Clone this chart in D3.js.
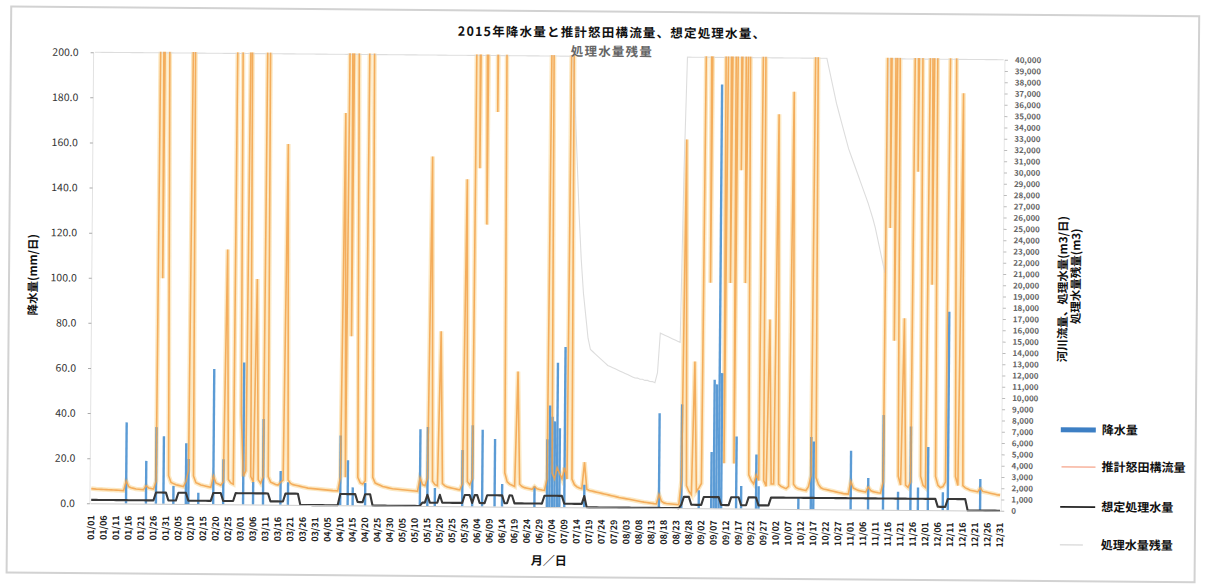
<!DOCTYPE html>
<html><head><meta charset="utf-8">
<script src="https://cdn.jsdelivr.net/npm/d3@7"></script>
<style>
html,body{margin:0;padding:0;background:#fff;}
svg{display:block;}
text{font-family:"Noto Sans CJK JP","Noto Sans",sans-serif;}
</style></head><body>
<svg id="chart" width="1205" height="586"></svg>
<script>
// ---- categories / tick labels ----
const days = d3.timeDay.range(new Date(2016,0,1), new Date(2017,0,1)).map(d3.timeFormat("%m/%d"));
const tickLabels = ["01/01","01/06","01/11","01/16","01/21","01/26","01/31","02/05","02/10","02/15","02/20","02/25",
 "03/01","03/06","03/11","03/16","03/21","03/26","03/31","04/05","04/10","04/15","04/20","04/25","04/30",
 "05/05","05/10","05/15","05/20","05/25","05/30","06/04","06/09","06/14","06/19","06/24","06/29",
 "07/04","07/09","07/14","07/19","07/24","07/29","08/03","08/08","08/13","08/18","08/23","08/28",
 "09/02","09/07","09/12","09/17","09/22","09/27","10/02","10/07","10/12","10/17","10/22","10/27",
 "11/01","11/06","11/11","11/16","11/21","11/26","12/01","12/06","12/11","12/16","12/21","12/26","12/31"];
const leftTicks = [0,20,40,60,80,100,120,140,160,180,200];
const rightTicks = [0,1000,2000,3000,4000,5000,6000,7000,8000,9000,10000,11000,12000,13000,14000,15000,16000,17000,18000,19000,20000,
 21000,22000,23000,24000,25000,26000,27000,28000,29000,30000,31000,32000,33000,34000,35000,36000,37000,38000,39000,40000];

// ---- series: 降水量 (mm/日) ----
const precip = [
 0,0,0,0,0,0,0,0,0,0, 0,0,0,0,36,0,0,0,0,0, 0,0,19,0,0,0,34,0,0,30, 0,
 0,0,8,0,0,0,0,27,20,0, 0,0,5,0,0,0,0,0,60,0, 0,0,20,0,0,0,0,0,0,
 0,63,0,0,0,10,0,0,0,38, 0,0,0,0,0,0,15,0,0,10, 0,0,0,0,0,0,0,0,0,0, 0,
 0,0,0,0,0,0,0,0,0,31, 0,0,20,0,8,0,0,0,0,10, 0,0,0,0,0,0,0,0,0,0,
 0,0,0,0,0,0,0,0,0,0, 0,34,0,0,35,0,0,8,0,0, 0,0,0,0,0,0,0,0,25,0, 0,
 0,36,0,0,0,34,0,0,0,0, 30,0,0,10,0,0,0,0,0,0, 0,0,0,0,0,0,9,0,0,0,
 0,30,45,40,38,64,35,0,71,0, 0,0,0,0,0,0,10,0,0,0, 0,0,0,0,0,0,0,0,0,0, 0,
 0,0,0,0,0,0,0,0,0,0, 0,0,0,0,0,42,0,0,0,0, 0,0,0,0,46,0,0,0,0,0, 0,
 8,0,0,0,0,25,57,55,188,60, 0,0,0,0,0,32,0,10,0,0, 0,0,0,24,10,0,0,0,0,0,
 0,0,0,0,0,0,0,0,0,0, 5,0,0,0,0,32,30,0,0,0, 0,0,0,0,0,0,0,0,0,0, 0,
 26,0,0,0,0,0,0,14,0,0, 0,0,0,42,0,0,0,0,0,8, 0,0,0,0,37,0,0,10,0,0,
 0,28,0,0,0,0,0,8,0,88, 0,0,0,0,0,0,0,0,0,0, 0,0,14,0,0,0,0,0,0,0, 0];

// ---- series: 推計怒田構流量 (m3/日) ----
const flow = [
 1300,1280,1260,1250,1240,1230,1220,1210,1200,1190, 1180,1170,1160,1150,2000,1500,1400,1350,1300,1280, 1260,1250,1600,1400,1350,1300,2000,90000,20000,110000, 45000,
 2500,1900,1800,1700,1650,1600,1550,2000,3000,70000, 2500,1900,1800,1700,1650,1600,1550,1500,2500,1900, 1800,1700,2000,22600,2200,1900,1800,100000,80000,
 8000,2500,3000,60000,2500,2000,20000,2200,1900,2500, 90000,2500,2000,1900,1800,1750,2000,2200,32000,2200, 1900,1800,1750,1700,1650,1600,1550,1500,1480,1460, 1440,
 1420,1400,1380,1360,1340,1320,1300,1290,1280,2500, 34800,2500,80000,15000,100000,50000,2500,2000,1900,2200, 90000,60000,2500,2000,1900,1800,1700,1650,1600,1550,
 1500,1480,1460,1440,1420,1400,1380,1360,1340,1320, 1300,2500,1900,1800,2500,31000,2200,1900,1800,15500, 2000,1800,1700,1650,1600,1550,1500,1450,2000,29000, 2200,
 1900,2500,95000,30000,110000,70000,25000,120000,60000,100000, 35000,90000,50000,80000,3000,2200,2000,1900,1800,12000, 2000,1800,1700,1650,1600,1550,1800,1600,1550,1500,
 1480,2500,70000,3000,2500,3500,3000,2500,3500,2500, 80000,2500,2000,1800,1700,1650,4000,1600,1500,1450, 1400,1350,1300,1250,1200,1150,1100,1050,1000,950, 900,
 860,820,780,740,700,660,620,580,540,500, 470,440,410,380,360,1200,600,450,400,380, 360,340,320,300,2500,32700,2000,1500,1200,13000, 1500,
 1800,2200,70000,100000,20000,120000,90000,60000,150000,80000, 4000,80000,20000,90000,4000,100000,30000,70000,20000,60000, 3000,2500,2200,3000,2500,80000,2500,2000,16800,2200,
 2200,35000,2200,2000,1900,1800,2000,37000,2200,1900, 1800,1750,1700,1650,2000,3000,80000,2800,2200,1900, 1800,1750,1700,1650,1600,1550,1500,1450,1400,1380, 1360,
 2500,1900,1800,1700,1650,1600,1550,2000,1700,1600, 1550,1500,1480,2500,90000,25000,110000,15000,70000,3000, 2200,17000,2200,2000,2500,80000,30000,90000,3000,2200,
 2000,70000,20000,85000,3000,2200,2000,2100,2500,60000, 100000,45000,3000,2200,37000,2200,2000,1900,1800,1750, 1700,1650,2000,1700,1650,1600,1550,1500,1450,1400, 1380];

// ---- series: 想定処理水量 (m3/日) ----
const treated = [
 300,300,300,300,300,300,300,300,300,300, 300,300,300,300,300,300,300,300,300,300, 300,300,300,300,300,300,1000,1000,1000,1000, 1000,
 300,300,300,300,1000,1000,1000,1000,300,300, 300,300,300,300,300,300,300,300,1000,1000, 1000,1000,300,300,300,300,300,1000,1000,
 1000,1000,1000,1000,1000,1000,1000,1000,1000,1000, 1000,1000,300,300,300,300,300,300,1000,1000, 1000,1000,1000,1000,0,0,0,0,0,0, 0,
 0,0,0,0,0,0,0,0,0,1000, 1000,1000,1000,1000,1000,1000,300,300,300,1000, 1000,1000,0,0,0,0,0,0,0,0,
 0,0,0,0,0,0,0,0,0,0, 0,0,300,300,1000,300,300,300,300,1000, 300,300,300,300,300,300,300,300,300,1000, 1000,
 1000,300,1000,1000,300,300,300,1000,1000,1000, 1000,1000,1000,1000,300,300,1000,1000,300,300, 300,300,300,300,300,300,300,300,300,300,
 1000,1000,1000,1000,1000,1000,1000,1000,300,300, 300,300,300,300,300,300,1000,0,0,0, 0,0,0,0,0,0,0,0,0,0, 0,
 0,0,0,0,0,0,0,0,0,0, 0,0,0,0,0,0,0,0,0,0, 0,0,0,0,300,1000,1000,1000,300,300, 300,
 300,300,1000,1000,1000,1000,1000,1000,1000,300, 300,300,300,1000,1000,1000,1000,300,300,300, 1000,1000,1000,1000,300,300,300,300,300,1000,
 1000,1000,1000,1000,1000,1000,1000,1000,1000,1000, 1000,1000,1000,1000,1000,1000,1000,1000,1000,1000, 1000,1000,1000,1000,1000,1000,1000,1000,1000,1000, 1000,
 1000,1000,1000,1000,1000,1000,1000,1000,1000,1000, 1000,1000,1000,1000,1000,1000,1000,1000,1000,1000, 1000,1000,1000,1000,1000,1000,1000,1000,1000,1000,
 1000,1000,1000,1000,1000,300,300,300,300,1000, 1000,1000,1000,1000,1000,1000,1000,0,0,0, 0,0,0,0,0,0,0,0,0,0, 0];

// ---- series: 処理水量残量 (m3) ----
const remain = [
 40000,40000,40000,40000,40000,40000,40000,40000,40000,40000, 40000,40000,40000,40000,40000,40000,40000,40000,40000,40000, 40000,40000,40000,40000,40000,40000,40000,40000,40000,40000, 40000,
 40000,40000,40000,40000,40000,40000,40000,40000,40000,40000, 40000,40000,40000,40000,40000,40000,40000,40000,40000,40000, 40000,40000,40000,40000,40000,40000,40000,40000,40000,
 40000,40000,40000,40000,40000,40000,40000,40000,40000,40000, 40000,40000,40000,40000,40000,40000,40000,40000,40000,40000, 40000,40000,40000,40000,40000,40000,40000,40000,40000,40000, 40000,
 40000,40000,40000,40000,40000,40000,40000,40000,40000,40000, 40000,40000,40000,40000,40000,40000,40000,40000,40000,40000, 40000,40000,40000,40000,40000,40000,40000,40000,40000,40000,
 40000,40000,40000,40000,40000,40000,40000,40000,40000,40000, 40000,40000,40000,40000,40000,40000,40000,40000,40000,40000, 40000,40000,40000,40000,40000,40000,40000,40000,40000,40000, 40000,
 40000,40000,40000,40000,40000,40000,40000,40000,40000,40000, 40000,40000,40000,40000,40000,40000,40000,40000,40000,40000, 40000,40000,40000,40000,40000,40000,40000,40000,40000,40000,
 40000,40000,40000,40000,40000,40000,40000,40000,40000,40000, 40000,36000,31000,26000,22000,19000,17000,15000,14000,13800, 13600,13400,13200,13000,12800,12600,12500,12400,12300,12200, 12100,
 12000,11900,11800,11700,11600,11500,11500,11400,11400,11300, 11300,11200,11200,11100,12000,15500,15400,15300,15200,15100, 15000,14900,14800,14700,30000,40000,40000,40000,40000,40000, 40000,
 40000,40000,40000,40000,40000,40000,40000,40000,40000,40000, 40000,40000,40000,40000,40000,40000,40000,40000,40000,40000, 40000,40000,40000,40000,40000,40000,40000,40000,40000,40000,
 40000,40000,40000,40000,40000,40000,40000,40000,40000,40000, 40000,40000,40000,40000,40000,40000,40000,40000,40000,40000, 40000,39000,38000,37000,36000,35200,34400,33600,32800,32000, 31400,
 30800,30200,29600,29000,28400,27800,27200,26500,25800,25000, 24000,23000,22000,21000,40000,40000,40000,40000,40000,40000, 40000,40000,40000,40000,40000,40000,40000,40000,40000,40000,
 40000,40000,40000,40000,40000,40000,40000,40000,40000,40000, 40000,40000,40000,40000,40000,40000,40000,40000,40000,40000, 40000,40000,40000,40000,40000,40000,40000,40000,40000,40000, 40000];

const titleLines = ["2015年降水量と推計怒田構流量、想定処理水量、","処理水量残量"];
const legendItems = ["降水量","推計怒田構流量","想定処理水量","処理水量残量"];

// ---- drawing ----
const svg = d3.select("#chart");
const root = svg.append("g").attr("transform","rotate(0.47,548,282)");
const PL = 91.75, PR = 1003.1, PT = 56, PB = 507;

root.append("rect").attr("x",9).attr("y",11).attr("width",1188).attr("height",566)
  .attr("fill","#fff").attr("stroke","#d2d2d2").attr("stroke-width",2);

const x = d3.scaleBand().domain(days).range([PL,PR]).padding(0);
const bw = x.bandwidth();
const yL = d3.scaleLinear().domain([0,200]).range([PB,PT]);
const yR = d3.scaleLinear().domain([0,40000]).range([PB,PT]);

svg.append("defs").append("clipPath").attr("id","plotclip")
  .append("rect").attr("x",PL).attr("y",PT-1).attr("width",PR-PL).attr("height",PB-PT+6);

// axis lines
root.append("line").attr("x1",PL).attr("x2",PL).attr("y1",PT).attr("y2",PB).attr("stroke","#e2e2e2");
root.append("line").attr("x1",PR).attr("x2",PR).attr("y1",PT).attr("y2",PB).attr("stroke","#e6e6e6");

const plot = root.append("g").attr("clip-path","url(#plotclip)");

const lineR = arr => d3.line().x((d,i)=>x(days[i])+bw/2).y(d=>yR(d))(arr);

// soft halo of the flow line (scan blur look)
plot.append("path").attr("d",lineR(flow)).attr("fill","none")
  .attr("stroke","#fbe0ae").attr("stroke-width",4.5).attr("stroke-opacity",0.75);

// bars
plot.append("g").selectAll("rect").data(days.map((d,i)=>({d,v:precip[i]})).filter(o=>o.v>0))
  .join("rect")
  .attr("x",o=>x(o.d)+bw*0.02).attr("width",bw*0.96)
  .attr("y",o=>yL(o.v)).attr("height",o=>PB-yL(o.v))
  .attr("fill","#5b9bd5");

plot.append("path").attr("d",lineR(remain)).attr("fill","none")
  .attr("stroke","#dddddd").attr("stroke-width",1.1);
plot.append("path").attr("d",lineR(flow)).attr("fill","none")
  .attr("stroke","#f2a24a").attr("stroke-width",1.6).attr("stroke-opacity",0.85);
plot.append("path").attr("d",lineR(treated)).attr("fill","none")
  .attr("stroke","#383838").attr("stroke-width",2.1).attr("stroke-linejoin","round");

// left axis
const axL = root.append("g").attr("transform",`translate(${PL},0)`)
  .call(d3.axisLeft(yL).tickValues(leftTicks).tickFormat(d3.format(".1f")).tickSize(3).tickPadding(12));
axL.select(".domain").remove();
axL.selectAll(".tick line").attr("stroke","#aaa");
axL.selectAll("text").attr("font-family","'Liberation Serif',serif").attr("font-size",10.5).attr("fill","#333");

// right axis
const axR = root.append("g").attr("transform",`translate(${PR},0)`)
  .call(d3.axisRight(yR).tickValues(rightTicks).tickFormat(d3.format(",")).tickSize(3).tickPadding(7));
axR.select(".domain").remove();
axR.selectAll(".tick line").attr("stroke","#bbb");
axR.selectAll("text").attr("font-family","'Liberation Sans',sans-serif").attr("font-size",8).attr("fill","#666").attr("font-weight","bold");

// bottom axis
const axB = root.append("g").attr("transform",`translate(0,${PB})`)
  .call(d3.axisBottom(x).tickValues(tickLabels).tickSize(0));
axB.select(".domain").attr("stroke","#ccc");
axB.selectAll("text").attr("font-family","'Liberation Sans',sans-serif").attr("font-size",9).attr("font-weight","bold")
  .attr("fill","#222").attr("transform","rotate(-90)").attr("x",-12).attr("y",0).attr("dy","0.35em")
  .style("text-anchor","end");

// titles
root.append("text").attr("x",610).attr("y",36.5).attr("text-anchor","middle").attr("font-size",12.5)
  .attr("letter-spacing",1.2).attr("font-weight","bold").attr("fill","#111").text(titleLines[0]);
root.append("text").attr("x",610).attr("y",55.5).attr("text-anchor","middle").attr("font-size",12.5)
  .attr("letter-spacing",1.2).attr("font-weight","bold").attr("fill","#666").text(titleLines[1]);

root.append("text").attr("transform","translate(37,279) rotate(-90)").attr("text-anchor","middle")
  .attr("font-size",11.5).attr("font-weight","bold").attr("fill","#111").text("降水量(mm/日)");
root.append("text").attr("transform","translate(1067,285) rotate(-90)").attr("text-anchor","middle")
  .attr("font-size",11.5).attr("font-weight","bold").attr("fill","#111").text("河川流量、処理水量(m3/日)");
root.append("text").attr("transform","translate(1080,272) rotate(-90)").attr("text-anchor","middle")
  .attr("font-size",11.5).attr("font-weight","bold").attr("fill","#111").text("処理水量残量(m3)");

root.append("text").attr("x",551).attr("y",565).attr("text-anchor","middle").attr("font-size",12)
  .attr("font-weight","bold").attr("fill","#111").text("月／日");

// legend
const legY = [425.6,462.6,502.6,540.6];
const leg = root.append("g");
leg.append("line").attr("x1",1062).attr("x2",1097).attr("y1",legY[0]).attr("y2",legY[0]).attr("stroke","#3d7fc4").attr("stroke-width",5);
leg.append("line").attr("x1",1063).attr("x2",1097).attr("y1",legY[1]).attr("y2",legY[1]).attr("stroke","#f6a48a").attr("stroke-width",1.2);
leg.append("line").attr("x1",1062).attr("x2",1097).attr("y1",legY[2]).attr("y2",legY[2]).attr("stroke","#222").attr("stroke-width",1.8);
leg.append("line").attr("x1",1062).attr("x2",1085).attr("y1",legY[3]).attr("y2",legY[3]).attr("stroke","#dedede").attr("stroke-width",1.5);
leg.selectAll("text").data(legendItems).join("text")
  .attr("x",1103).attr("y",(d,i)=>legY[i]).attr("dy","0.35em")
  .attr("font-size",12).attr("font-weight","bold").attr("fill","#111").text(d=>d);
</script>
</body></html>
